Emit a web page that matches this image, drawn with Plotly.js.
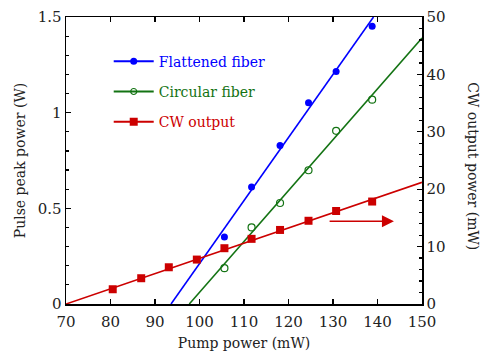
<!DOCTYPE html>
<html>
<head>
<meta charset="utf-8">
<script src="https://cdn.plot.ly/plotly-3.0.1.min.js"></script>
<style>html,body{margin:0;padding:0;background:#fff;}#chart{width:480px;height:356px;}</style>
</head>
<body>
<div id="chart"></div>
<script>
// Pump power (mW) for measured points
const pumpPower = [80.5, 86.9, 93.1, 99.4, 105.6, 111.7, 118.1, 124.5, 130.7, 138.8];
const flatPump = [105.6, 111.7, 118.1, 124.5, 130.7, 138.8];
const flatPeak = [0.35, 0.612, 0.829, 1.052, 1.215, 1.452];
const circPump = [105.6, 111.7, 118.1, 124.5, 130.7, 138.8];
const circPeak = [0.187, 0.40, 0.528, 0.699, 0.905, 1.068];
const cwOutput = [2.57, 4.49, 6.4, 7.74, 9.72, 11.35, 12.9, 14.5, 16.2, 17.85];
// linear fit lines (end points)
const flatFitX = [93.6, 139.1];
const flatFitY = [0, 1.5];
const circFitX = [97.7, 150];
const circFitY = [0, 1.39];
const cwFitX = [70, 150];
const cwFitY = [0, 21.2];
// arrow pointing to right axis
const arrowX = [128.9, 143.7];
const arrowY = [14.4, 14.4];
const seriesNames = ['Flattened fiber', 'Circular fiber', 'CW output'];

const BLUE = '#0000ff', GREEN = '#137313', RED = '#cc0000';
const FONT = 'DejaVu Serif';

const traces = [
  {x: flatFitX, y: flatFitY, mode: 'lines', line: {color: BLUE, width: 1.6}, showlegend: false, hoverinfo: 'skip'},
  {x: circFitX, y: circFitY, mode: 'lines', line: {color: GREEN, width: 1.6}, showlegend: false, hoverinfo: 'skip'},
  {x: cwFitX, y: cwFitY, yaxis: 'y2', mode: 'lines', line: {color: RED, width: 1.6}, showlegend: false, hoverinfo: 'skip'},
  {x: flatPump, y: flatPeak, mode: 'markers', marker: {color: BLUE, size: 7, symbol: 'circle'}, showlegend: false},
  {x: circPump, y: circPeak, mode: 'markers', marker: {color: GREEN, size: 7, symbol: 'circle-open', line: {width: 1.2, color: GREEN}}, showlegend: false},
  {x: pumpPower, y: cwOutput, yaxis: 'y2', mode: 'markers', marker: {color: RED, size: 8, symbol: 'square'}, showlegend: false},
  // legend entries
  {x: [null], y: [null], mode: 'lines+markers', name: '<span style="color:' + BLUE + '">' + seriesNames[0] + '</span>', legendgroup: 'a',
   line: {color: BLUE, width: 2}, marker: {color: BLUE, size: 7, symbol: 'circle'}},
  {x: [null], y: [null], mode: 'lines+markers', name: '<span style="color:' + GREEN + '">' + seriesNames[1] + '</span>', legendgroup: 'b',
   line: {color: GREEN, width: 2}, marker: {color: GREEN, size: 6, symbol: 'circle-open', line: {width: 1.2, color: GREEN}}},
  {x: [null], y: [null], mode: 'lines+markers', name: '<span style="color:' + RED + '">' + seriesNames[2] + '</span>', legendgroup: 'c',
   line: {color: RED, width: 2}, marker: {color: RED, size: 8, symbol: 'square'}}
];

const axisCommon = {
  showline: true, linecolor: '#000', linewidth: 1.5, ticks: 'inside', ticklen: 5, tickwidth: 1.2, tickcolor: '#000',
  showgrid: false, zeroline: false, tickfont: {family: FONT, size: 15, color: '#222'}
};

const layout = {
  width: 480, height: 356,
  margin: {l: 66, r: 58, t: 17, b: 52},
  paper_bgcolor: '#fff', plot_bgcolor: '#fff',
  font: {family: FONT, color: '#222'},
  showlegend: true,
  legend: {x: 0.12, y: 0.90, xanchor: 'left', yanchor: 'top', bgcolor: 'rgba(0,0,0,0)',
           font: {family: FONT, size: 14}, tracegroupgap: 9, itemwidth: 40},
  xaxis: Object.assign({}, axisCommon, {
    range: [70, 150], dtick: 10, tick0: 70, mirror: 'ticks', ticklabelstandoff: 3,
    title: {text: 'Pump power (mW)', font: {family: FONT, size: 14, color: '#222'}, standoff: 8}
  }),
  yaxis: Object.assign({}, axisCommon, {
    range: [0, 1.5], dtick: 0.5, minor: {dtick: 0.1, ticks: 'inside', ticklen: 3, tickcolor: '#000'},
    title: {text: 'Pulse peak power (W)', font: {family: FONT, size: 14, color: '#222'}, standoff: 8}
  }),
  yaxis2: Object.assign({}, axisCommon, {
    range: [0, 50], dtick: 10, overlaying: 'y', side: 'right',
    minor: {dtick: 2, ticks: 'inside', ticklen: 3, tickcolor: '#000'}
  }),
  annotations: [
    {xref: 'x', yref: 'y2', axref: 'x', ayref: 'y2', x: arrowX[1], y: arrowY[1], ax: arrowX[0], ay: arrowY[0],
     showarrow: true, arrowhead: 2, arrowsize: 1.6, arrowwidth: 1.5, arrowcolor: RED, text: ''},
    {xref: 'paper', yref: 'paper', x: 1, y: 0.48, xshift: 51, xanchor: 'center', yanchor: 'middle',
     textangle: 90, showarrow: false, text: 'CW output power (mW)', font: {family: FONT, size: 14, color: '#222'}}
  ]
};

Plotly.newPlot('chart', traces, layout, {displayModeBar: false, staticPlot: true});
</script>
</body>
</html>
